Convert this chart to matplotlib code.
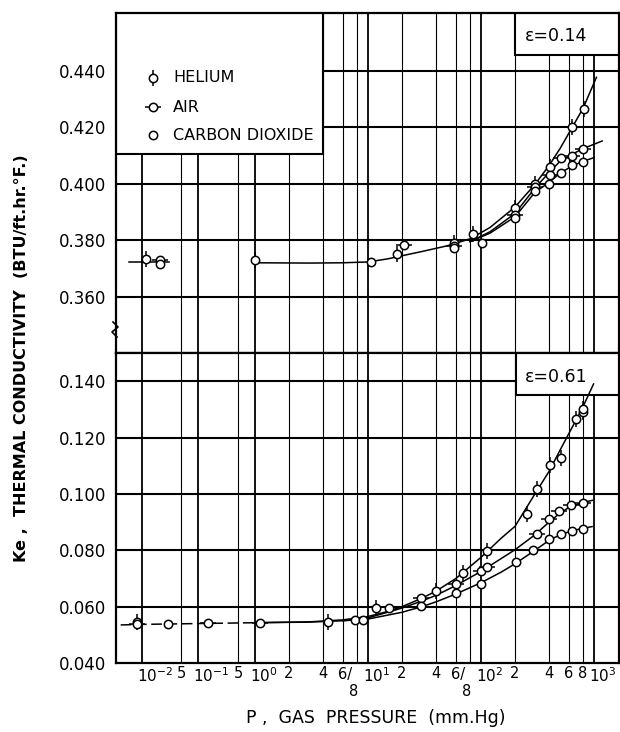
import numpy as np
import matplotlib
matplotlib.use("Agg")
import matplotlib.pyplot as plt
from matplotlib.patches import Rectangle
from matplotlib.transforms import offset_copy

# ---------------- data ----------------
# eps = 0.14 (upper panel)
he14_p = [0.012, 1.0, 18, 58, 85, 200, 300, 405, 638, 816]
he14_k = [0.3735, 0.3730, 0.3752, 0.3790, 0.3822, 0.3915, 0.4000, 0.4060, 0.4200, 0.4267]
air14_p = [0.021, 20.8, 58, 200, 300, 405, 507, 638, 795]
air14_k = [0.3730, 0.3782, 0.3780, 0.3890, 0.3990, 0.4032, 0.4093, 0.4100, 0.4125]
co2_14_p = [0.021, 10.6, 58, 101, 200, 300, 402, 507, 638, 804]
co2_14_k = [0.3714, 0.3724, 0.3772, 0.3790, 0.3880, 0.3975, 0.4000, 0.4040, 0.4066, 0.4078]

# faired curves, eps = 0.14
c14_low_p = [0.0058, 0.03]
c14_low_k = [0.3722, 0.3722]
c14_he_p = [1, 3, 6, 10, 15, 20, 30, 50, 80, 120, 200, 300, 400, 500, 640, 800, 1050]
c14_he_k = [0.3720, 0.3719, 0.3720, 0.3723, 0.3734, 0.3745, 0.3760, 0.3780, 0.3805, 0.3845,
            0.3918, 0.3998, 0.4065, 0.4125, 0.4200, 0.4268, 0.4378]
c14_air_p = [80, 120, 200, 300, 400, 500, 640, 800, 1180]
c14_air_k = [0.3795, 0.3830, 0.3895, 0.3985, 0.4040, 0.4080, 0.4105, 0.4125, 0.4152]
c14_co2_p = [80, 120, 200, 300, 400, 500, 640, 800, 1000]
c14_co2_k = [0.3795, 0.3825, 0.3883, 0.3970, 0.4005, 0.4038, 0.4063, 0.4080, 0.4093]

# eps = 0.61 (lower panel)
he61_p = [0.0083, 4.45, 11.8, 40, 69, 112, 254, 311, 408, 507, 693, 794, 794]
he61_k = [0.0546, 0.0545, 0.0595, 0.0657, 0.0719, 0.0796, 0.0929, 0.1018, 0.1101, 0.1127,
          0.1267, 0.1289, 0.1301]
air61_p = [0.0083, 0.149, 1.1, 7.67, 29.3, 60, 99, 112, 311, 402, 493, 622, 804]
air61_k = [0.0537, 0.0541, 0.0543, 0.0551, 0.0630, 0.0681, 0.0725, 0.0741, 0.0858, 0.0912,
           0.0939, 0.0962, 0.0969]
co2_61_p = [0.0292, 8.97, 15.4, 29.3, 60, 99, 204, 290, 402, 507, 635, 794]
co2_61_k = [0.0539, 0.0551, 0.0595, 0.0603, 0.0648, 0.0681, 0.0757, 0.0800, 0.0840, 0.0858,
            0.0867, 0.0877]

# faired curves, eps = 0.61
c61_low_p = [0.0042, 0.01, 0.1, 1.0]
c61_low_k = [0.0535, 0.0537, 0.0540, 0.0543]
c61_he_p = [1, 3, 6, 10, 15, 20, 30, 40, 60, 100, 150, 200, 300, 400, 500, 600, 700, 800, 990]
c61_he_k = [0.0543, 0.0546, 0.0553, 0.0565, 0.0583, 0.0600, 0.0630, 0.0655, 0.0700, 0.0775,
            0.0842, 0.0885, 0.1000, 0.1080, 0.1155, 0.1215, 0.1265, 0.1310, 0.1390]
c61_air_p = [1, 3, 6, 10, 20, 30, 40, 60, 100, 150, 200, 300, 400, 500, 600, 800, 990]
c61_air_k = [0.0543, 0.0545, 0.0550, 0.0560, 0.0595, 0.0620, 0.0640, 0.0675, 0.0725, 0.0770,
             0.0802, 0.0855, 0.0900, 0.0932, 0.0952, 0.0970, 0.0978]
c61_co2_p = [6, 10, 20, 30, 40, 60, 100, 150, 200, 300, 400, 500, 650, 800, 960]
c61_co2_k = [0.0550, 0.0556, 0.0580, 0.0600, 0.0617, 0.0645, 0.0685, 0.0722, 0.0752, 0.0800,
             0.0835, 0.0855, 0.0870, 0.0878, 0.0884]

# axes ticks / grid
top_yticks = [0.360, 0.380, 0.400, 0.420, 0.440]
bot_yticks = [0.040, 0.060, 0.080, 0.100, 0.120, 0.140]
grid_major = [0.01, 0.1, 1, 10, 100, 1000]
grid_minor = [0.05, 0.5, 2, 4, 6, 8, 20, 40, 60, 80, 200, 400, 600, 800]
xdec_pos = [0.01, 0.1, 1, 10, 100, 1000]
xdec_txt = [r'$10^{-2}$', r'$10^{-1}$', r'$10^{0}$', r'$10^{1}$', r'$10^{2}$', r'$10^{3}$']
xmin_pos = [0.05, 0.5, 2, 4, 6.3, 20, 40, 63, 200, 400, 600, 790]
xmin_txt = ['5', '5', '2', '4', '6/', '2', '4', '6/', '2', '4', '6', '8']
xlab2_pos = [7.4, 74]
xlab2_txt = ['8', '8']

# ---------------- scale ----------------
def fwd(x):
    x = np.asarray(x, dtype=float)
    lx = np.log10(np.clip(x, 1e-12, None))
    return np.where(lx < 0, 0.5 * lx, lx)

def inv(u):
    u = np.asarray(u, dtype=float)
    return np.where(u < 0, 10.0 ** (2 * u), 10.0 ** u)

W, H = 620, 732
fig = plt.figure(figsize=(W / 100, H / 100), dpi=100)
left, right = 116 / W, 619 / W
ax1 = fig.add_axes([left, (H - 353) / H, right - left, 340 / H])
ax2 = fig.add_axes([left, (H - 663) / H, right - left, 310 / H])

XMIN, XMAX = 0.00347, 1663
for ax in (ax1, ax2):
    ax.set_xscale('function', functions=(fwd, inv))
    ax.set_xlim(XMIN, XMAX)
    ax.set_xticks([])
    ax.tick_params(axis='y', length=0, pad=7, labelsize=12)
    for s in ax.spines.values():
        s.set_linewidth(1.6)
    for g in grid_major:
        ax.axvline(g, color='k', lw=1.3, zorder=1)
    for g in grid_minor:
        ax.axvline(g, color='k', lw=0.8, zorder=1)

ax1.set_ylim(0.340, 0.4606)
ax2.set_ylim(0.040, 0.150)
ax1.set_yticks(top_yticks, [f'{v:.3f}' for v in top_yticks])
ax2.set_yticks(bot_yticks, [f'{v:.3f}' for v in bot_yticks])
for v in top_yticks:
    ax1.axhline(v, color='k', lw=1.5, zorder=1)
for v in bot_yticks[1:]:
    ax2.axhline(v, color='k', lw=1.5, zorder=1)

# ---------------- boxes ----------------
ax1.add_patch(Rectangle((0, (353 - 154) / 340), (323 - 116) / 503, 1, transform=ax1.transAxes,
                        facecolor='white', edgecolor='k', lw=1.5, zorder=2, clip_on=True))
ax1.add_patch(Rectangle(((515 - 116) / 503, (353 - 55) / 340), 1, 1, transform=ax1.transAxes,
                        facecolor='white', edgecolor='k', lw=1.5, zorder=2, clip_on=True))
ax2.add_patch(Rectangle(((516 - 116) / 503, (663 - 395) / 310), 1, 1, transform=ax2.transAxes,
                        facecolor='white', edgecolor='k', lw=1.5, zorder=2, clip_on=True))
ax1.text((556 - 116) / 503, (353 - 36) / 340, 'ε=0.14', transform=ax1.transAxes,
         ha='center', va='center', fontsize=12.5, zorder=6)
ax2.text((556 - 116) / 503, (663 - 377) / 310, 'ε=0.61', transform=ax2.transAxes,
         ha='center', va='center', fontsize=12.5, zorder=6)

# ---------------- curves ----------------
lkw = dict(color='k', lw=1.1, zorder=3)
ax1.plot(c14_low_p, c14_low_k, **lkw)
ax1.plot(c14_he_p, c14_he_k, **lkw)
ax1.plot(c14_air_p, c14_air_k, **lkw)
ax1.plot(c14_co2_p, c14_co2_k, **lkw)
ax2.plot(c61_low_p, c61_low_k, color='k', lw=1.1, zorder=3, dashes=(7, 3))
ax2.plot(c61_he_p, c61_he_k, **lkw)
ax2.plot(c61_air_p, c61_air_k, **lkw)
ax2.plot(c61_co2_p, c61_co2_k, **lkw)

# ---------------- points ----------------
TICK_MS = 11
CIRC_MS = 6.0

def pts(ax, p, k, kind, **kw):
    if kind == 'he':
        ax.plot(p, k, ls='none', marker='|', ms=TICK_MS, mew=1.1, color='k', zorder=4, **kw)
    elif kind == 'air':
        ax.plot(p, k, ls='none', marker='_', ms=TICK_MS, mew=1.1, color='k', zorder=4, **kw)
    ax.plot(p, k, ls='none', marker='o', ms=CIRC_MS, mfc='white', mec='k', mew=1.1, zorder=5, **kw)

pts(ax1, he14_p, he14_k, 'he')
pts(ax1, air14_p, air14_k, 'air')
pts(ax1, co2_14_p, co2_14_k, 'co2')
pts(ax2, he61_p, he61_k, 'he')
pts(ax2, air61_p, air61_k, 'air')
pts(ax2, co2_61_p, co2_61_k, 'co2')

# ---------------- legend (drawn in the box) ----------------
leg = [('HELIUM', 'he', 78), ('AIR', 'air', 107), ('CARBON DIOXIDE', 'co2', 135)]
for name, kind, ypx in leg:
    yy = (353 - ypx) / 340
    xx = (153 - 116) / 503
    pts(ax1, [xx], [yy], kind, transform=ax1.transAxes)
    ax1.text((173 - 116) / 503, yy, name, transform=ax1.transAxes, ha='left', va='center',
             fontsize=11.5, zorder=7)

# ---------------- axis break mark ----------------
bx = np.array([113, 118, 112, 117]) - 116
by = np.array([322, 327, 332, 337])
ax1.plot(bx / 503, (353 - by) / 340, color='k', lw=1.2, transform=ax1.transAxes,
         clip_on=False, zorder=8)

# ---------------- x tick labels ----------------
tr = ax2.get_xaxis_transform()
tr_dec = offset_copy(tr, fig=fig, x=-5, y=0, units='dots')
for pos, t in zip(xdec_pos, xdec_txt):
    ax2.text(pos, -13 / 310, t, transform=tr_dec, ha='left', va='center', fontsize=11)
for pos, t in zip(xmin_pos, xmin_txt):
    ax2.text(pos, -11 / 310, t, transform=tr, ha='center', va='center', fontsize=10.5)
for pos, t in zip(xlab2_pos, xlab2_txt):
    ax2.text(pos, -29 / 310, t, transform=tr, ha='center', va='center', fontsize=10.5)

fig.text(376 / W, 1 - 718 / H, 'P ,  GAS  PRESSURE  (mm.Hg)', ha='center', va='center',
         fontsize=12.5)
fig.text(22 / W, 1 - 358 / H, 'Ke ,  THERMAL CONDUCTIVITY  (BTU/ft.hr.°F.)', rotation=90,
         ha='center', va='center', fontsize=11.5, fontweight='bold')

fig.savefig('out.png', dpi=100)
